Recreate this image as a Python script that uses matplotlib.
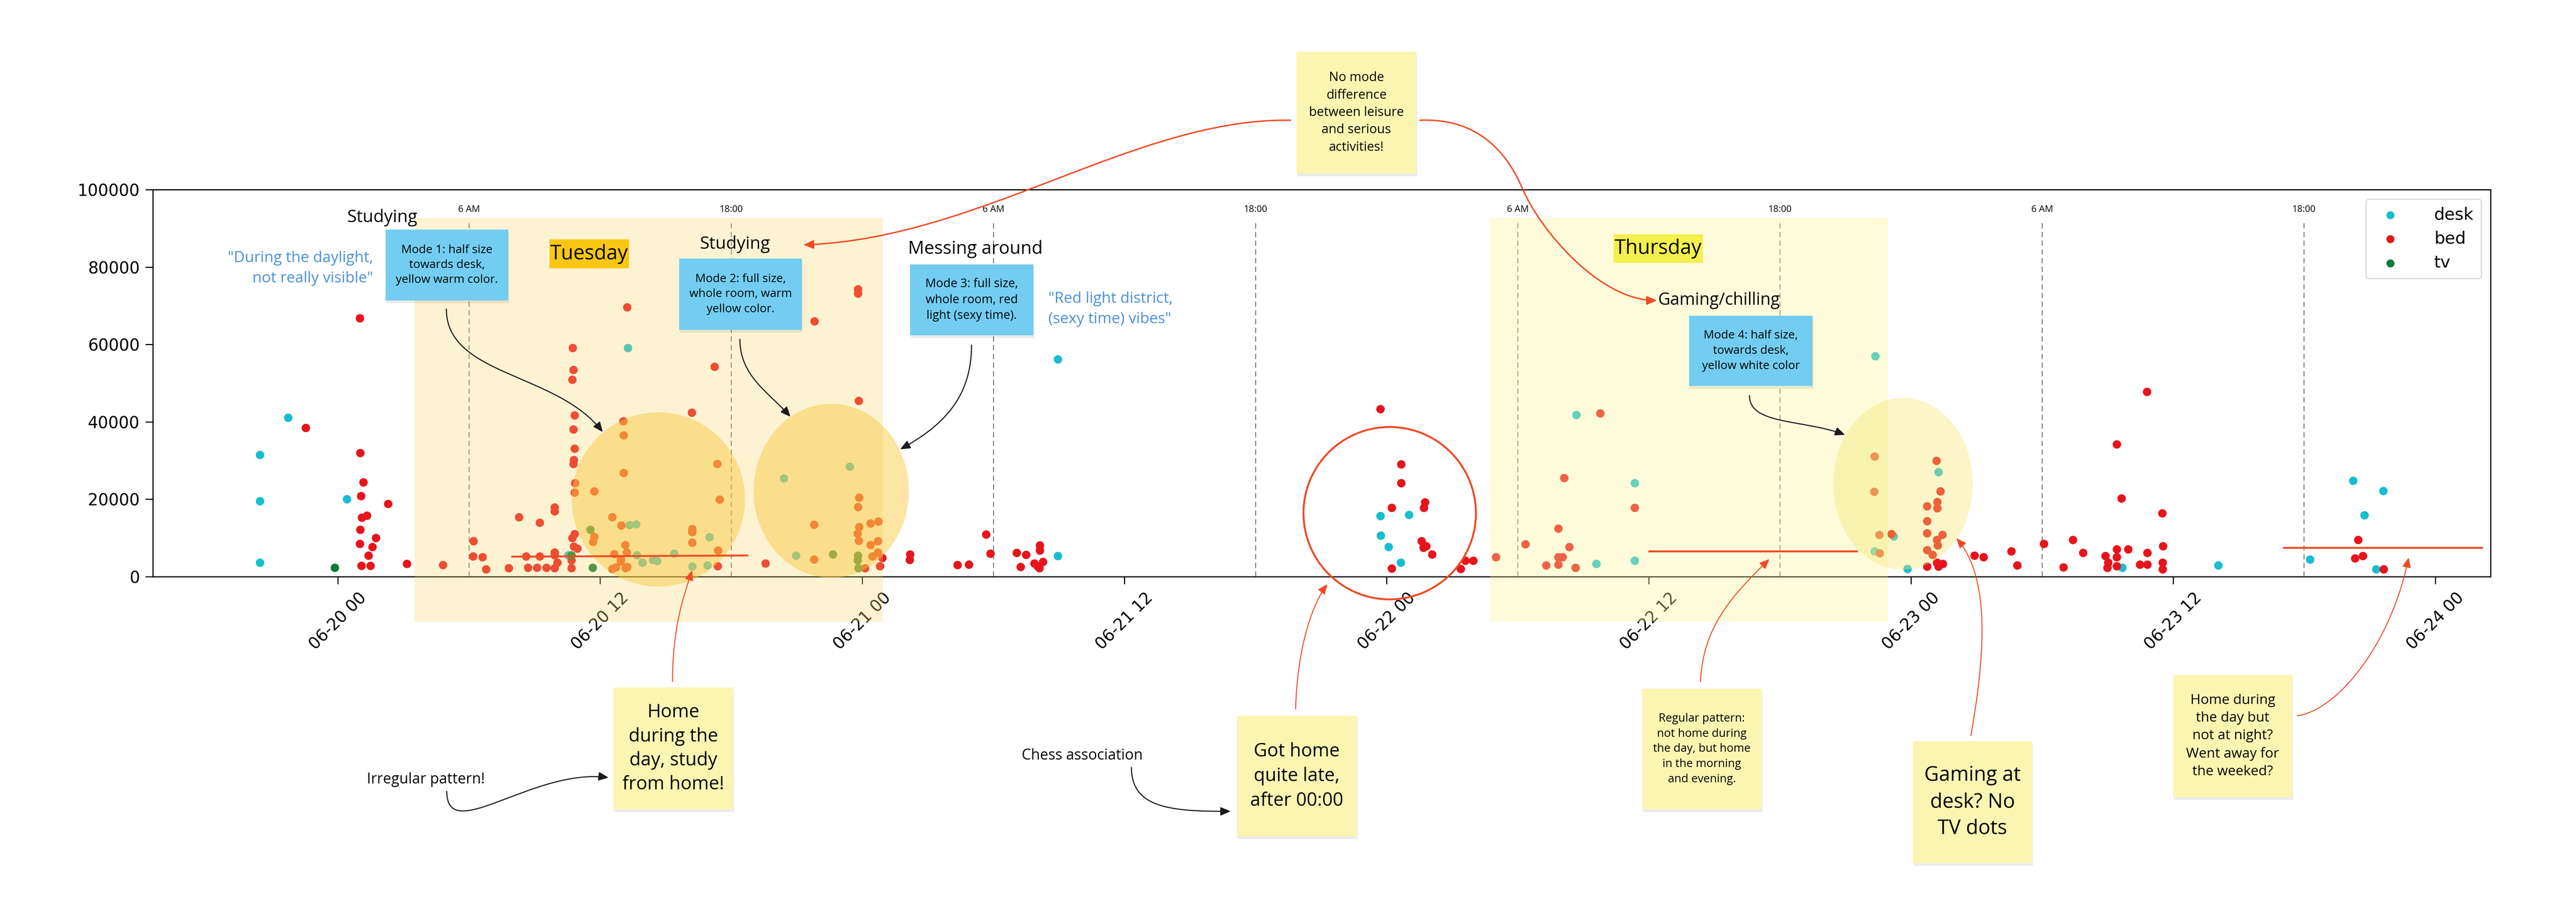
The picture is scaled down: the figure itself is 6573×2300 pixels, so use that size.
"""
Annotated scatter: light sensor values per location (desk / bed / tv)
over one week, with Miro-style sticky notes drawn on top.
"""

import matplotlib
matplotlib.use("Agg")
import matplotlib.pyplot as plt
import matplotlib.dates as mdates
from matplotlib import font_manager
from matplotlib.patches import Rectangle, Ellipse, FancyArrowPatch
from matplotlib.path import Path
import pandas as pd

# ── Data (hours after 06-20 00:00, sensor value) ─────────────────
START = pd.Timestamp("2021-06-20 00:00")

desk_hours = [-3.57, -2.28, -3.57, -3.57, 0.41, 13.27, 10.54, 13.34, 13.65, 13.69,
              15.39, 13.93, 14.41, 14.61, 16.21, 16.91, 17.01, 23.42, 20.41, 20.96,
              32.94, 32.94, 47.71, 49.03, 47.73, 48.08, 48.65, 56.68, 57.59, 59.35,
              59.35, 70.36, 73.26, 71.21, 70.33, 71.83, 81.66, 86.06, 90.26, 92.24,
              93.61, 92.75, 93.30]
desk_values = [31500, 41100, 19500, 3600, 20000, 59100, 5600, 13400, 13600, 5600,
               6000, 3600, 4400, 4000, 2600, 2900, 10200, 28400, 25400, 5500,
               56200, 5400, 15700, 16000, 10600, 7700, 3600, 41800, 3300, 24200,
               4200, 57000, 27000, 10400, 6600, 2000, 2300, 2900, 4500, 24800,
               22200, 15900, 1900]

bed_hours = [-1.47, 1.00, 1.02, 1.17, 1.05, 2.30, 1.09, 1.33, 1.02, 1.74,
             1.00, 1.58, 1.39, 1.07, 1.48, 3.16, 4.81, 6.21, 6.19, 6.62,
             6.77, 7.81, 8.29, 9.23, 9.91, 9.91, 8.60, 9.23, 9.92, 9.92,
             8.70, 9.11, 9.54, 9.91, 10.04, 10.80, 10.78, 10.85, 10.83, 10.83,
             10.72, 10.80, 10.96, 10.68, 10.68, 10.74, 10.78, 10.72, 10.84, 10.78,
             10.84, 13.23, 13.06, 13.08, 13.07, 11.72, 17.36, 17.47, 12.56, 12.96,
             11.72, 11.67, 16.21, 16.21, 16.22, 13.15, 17.39, 12.65, 13.22, 12.95,
             12.95, 12.56, 12.72, 13.17, 13.24, 17.37, 16.19, 17.24, 19.56, 23.80,
             23.80, 21.81, 23.84, 23.86, 23.80, 21.80, 24.38, 24.74, 23.85, 23.78,
             23.84, 24.72, 24.38, 24.72, 24.46, 21.80, 24.12, 24.80, 24.92, 26.19,
             26.16, 28.35, 28.88, 29.67, 29.86, 31.06, 31.50, 31.25, 32.12, 32.12,
             31.87, 32.01, 32.26, 32.10, 47.71, 48.66, 48.66, 48.24, 49.75, 49.71,
             49.60, 49.68, 49.81, 50.08, 48.24, 51.39, 51.60, 51.97, 53.00, 54.35,
             55.30, 55.86, 56.64, 55.86, 56.35, 55.86, 56.06, 56.13, 57.77, 59.35,
             70.33, 73.17, 70.31, 73.34, 73.20, 73.20, 72.74, 72.74, 70.55, 71.11,
             72.74, 73.43, 73.18, 73.22, 70.57, 72.74, 72.98, 72.73, 73.18, 73.26,
             73.45, 74.91, 75.31, 76.59, 76.86, 78.08, 78.98, 79.40, 79.87, 80.90,
             81.41, 81.63, 81.41, 81.41, 81.94, 81.03, 80.98, 81.41, 82.47, 82.81,
             82.81, 82.79, 83.50, 83.54, 83.52, 83.52, 92.47, 92.69, 92.33, 93.63]
bed_values = [38500, 66800, 32000, 24400, 20900, 18800, 15300, 15800, 12100, 10000,
              8550, 7700, 5500, 2800, 2800, 3350, 3000, 9200, 5300, 5100,
              1950, 2200, 15400, 14000, 17900, 16900, 5300, 5300, 6300, 5600,
              2300, 2300, 2300, 2200, 3600, 30200, 29200, 24200, 21800, 11000,
              10000, 7800, 7300, 4250, 2200, 59100, 53400, 50900, 41700, 38100,
              33100, 69600, 40200, 36500, 26800, 22100, 29200, 19900, 15400, 13300,
              10300, 9000, 12300, 11500, 8800, 8200, 6800, 5900, 6300, 4600,
              3900, 2050, 2400, 2200, 2550, 2700, 42400, 54300, 3400, 74300,
              73200, 66000, 45400, 20400, 18000, 13500, 13800, 14300, 12900, 11100,
              9300, 9200, 8200, 6300, 5300, 4500, 2200, 2700, 4900, 5800,
              4400, 3000, 3100, 10900, 6000, 6200, 5700, 2500, 8100, 6800,
              3400, 2700, 3800, 2200, 43300, 29000, 24200, 17800, 19200, 17800,
              9200, 7500, 7900, 5800, 2100, 2000, 4200, 4200, 5100, 8400,
              2900, 3100, 2300, 12400, 7700, 5100, 5100, 25500, 42200, 17800,
              31100, 30000, 22000, 22100, 19300, 17700, 18200, 14400, 10800, 11000,
              11200, 10800, 9500, 8100, 6100, 6900, 5700, 2600, 3600, 2600,
              3300, 5500, 5100, 6600, 2900, 8500, 2400, 9500, 6200, 5400,
              34200, 20200, 7100, 5100, 7100, 3600, 2300, 2700, 3100, 3100,
              6200, 47800, 16400, 7900, 3600, 1900, 9500, 5400, 4800, 1900]

tv_hours = [-0.15, 11.55, 10.68, 11.66, 22.65, 23.80, 23.78, 23.82]
tv_values = [2300, 12100, 5600, 2300, 5800, 5500, 4250, 2200]

marker_hours = [6, 18, 30, 42, 54, 66, 78, 90]
marker_labels = ["6 AM", "18:00", "6 AM", "18:00", "6 AM", "18:00", "6 AM", "18:00"]

# ── Style ────────────────────────────────────────────────────────
W, H = 6574, 2300
installed = {f.name for f in font_manager.fontManager.ttflist}
if "Liberation Sans Narrow" in installed:
    ANN, FS = "Liberation Sans Narrow", 1.25   # condensed, like the Miro board
else:
    ANN, FS = "Open Sans", 1.0
C_DESK, C_BED, C_TV = "#17becf", "#e8141c", "#0b7a3a"
BLUE_NOTE = "#72cdf1"
YELLOW_NOTE = "#fbf5b2"
RED = "#f04a25"
QUOTE = "#4a90d9"
INK = "#1a1a1a"


def to_time(hours):
    return START + pd.to_timedelta(hours, unit="h")


def note_text(ov, x, y, text, fs, **kw):
    kw.setdefault("ha", "center")
    kw.setdefault("va", "center")
    ov.text(x, y, text, fontsize=fs * FS, family=ANN, zorder=5, **kw)


def sticky(ov, x0, y0, x1, y1, color, text, fs, ls):
    ov.add_patch(Rectangle((x0 + 2, y0 + 7), x1 - x0, y1 - y0, color="#000000",
                           alpha=0.08, lw=0, zorder=3))
    ov.add_patch(Rectangle((x0, y0), x1 - x0, y1 - y0, color=color, lw=0, zorder=4))
    note_text(ov, (x0 + x1) / 2, (y0 + y1) / 2, text, fs,
              multialignment="center", linespacing=ls)


def curve(ov, pts, color, lw=2.0):
    codes = [Path.MOVETO] + [Path.CURVE4] * (len(pts) - 1)
    ov.add_patch(FancyArrowPatch(path=Path(pts, codes),
                                 arrowstyle="-|>,head_length=0.7,head_width=0.3",
                                 mutation_scale=22, lw=lw, color=color, zorder=6))


fig = plt.figure(figsize=(W / 100, H / 100), dpi=100, facecolor="white")
ax = fig.add_axes([390 / W, 1 - 1472 / H, (6355 - 390) / W, (1472 - 484) / H])

# ── Main scatter ─────────────────────────────────────────────────
ax.scatter(to_time(desk_hours), desk_values, s=240, c=C_DESK, lw=0, label="desk", zorder=3)
ax.scatter(to_time(bed_hours), bed_values, s=240, c=C_BED, lw=0, label="bed", zorder=3)
ax.scatter(to_time(tv_hours), tv_values, s=240, c=C_TV, lw=0, label="tv", zorder=3)

ax.vlines(to_time(marker_hours), 0, 92000, colors="#666666",
          linestyles=(0, (6, 4)), lw=1.6, zorder=2)
for t, lab in zip(to_time(marker_hours), marker_labels):
    ax.text(t, 94800, lab, ha="center", va="center", fontsize=17 * FS, family=ANN)

ax.set_xlim(to_time(-8.47), to_time(98.53))
ax.set_ylim(0, 100000)
ax.set_yticks(range(0, 100001, 20000))
ax.xaxis.set_major_locator(mdates.HourLocator(byhour=[0, 12]))
ax.xaxis.set_major_formatter(mdates.DateFormatter("%m-%d %H"))
ax.tick_params(axis="both", labelsize=30, length=14, width=2, pad=10)
plt.setp(ax.get_xticklabels(), rotation=45)
for sp in ax.spines.values():
    sp.set_linewidth(2.2)

leg = ax.legend(loc="upper right", fontsize=31, markerscale=0.95, borderpad=0.45,
                labelspacing=0.45, handletextpad=1.6, borderaxespad=0.55)
leg.get_frame().set_edgecolor("#cccccc")
leg.get_frame().set_linewidth(2)

# ── Overlay canvas (pixel coordinates) for the annotations ──────
ov = fig.add_axes([0, 0, 1, 1], zorder=5)
ov.set_xlim(0, W)
ov.set_ylim(H, 0)
ov.axis("off")
ov.patch.set_visible(False)

# day highlights and focus ellipses
ov.add_patch(Rectangle((1058, 556), 2253 - 1058, 1587 - 556, color="#fbd56b",
                       alpha=0.3, lw=0, zorder=1))
ov.add_patch(Rectangle((3802, 556), 4817 - 3802, 1587 - 556, color="#faf596",
                       alpha=0.35, lw=0, zorder=1))
ov.add_patch(Ellipse((1680, 1275), 442, 445, color="#f9c83c", alpha=0.47, lw=0, zorder=2))
ov.add_patch(Ellipse((2121, 1253), 396, 444, color="#f9c83c", alpha=0.47, lw=0, zorder=2))
ov.add_patch(Ellipse((4856, 1235), 356, 438, color="#f5e66e", alpha=0.38, lw=0, zorder=2))
ov.add_patch(Ellipse((3546, 1310), 440, 440, fill=False, ec=RED, lw=3.5, zorder=3))

# hand-drawn red baselines
ov.plot([1307, 1907], [1421, 1418], color=RED, lw=3.5, zorder=3)
ov.plot([4208, 4738], [1407, 1407], color=RED, lw=3.5, zorder=3)
ov.plot([5827, 6333], [1398, 1398], color=RED, lw=3.5, zorder=3)

# labels inside the chart
note_text(ov, 976, 556, "Studying", 32)
note_text(ov, 1876, 624, "Studying", 32)
note_text(ov, 2489, 636, "Messing around", 33)
note_text(ov, 4230, 767, "Gaming/chilling", 31, ha="left")
note_text(ov, 952, 685, "\"During the daylight,\nnot really visible\"", 28,
          ha="right", multialignment="right", linespacing=1.5, color=QUOTE)
note_text(ov, 2675, 789, "\"Red light district,\n(sexy time) vibes\"", 28,
          ha="left", multialignment="left", linespacing=1.5, color=QUOTE)

ov.add_patch(Rectangle((1402, 611), 203, 74, color="#f9c711", lw=0, zorder=4))
note_text(ov, 1503, 648, "Tuesday", 37)
ov.add_patch(Rectangle((4117, 598), 228, 73, color="#f5ef4d", lw=0, zorder=4))
note_text(ov, 4231, 635, "Thursday", 37)

# sticky notes
sticky(ov, 984, 586, 1297, 767, BLUE_NOTE,
       "Mode 1: half size\ntowards desk,\nyellow warm color.", 21.5, 1.42)
sticky(ov, 1733, 660, 2046, 842, BLUE_NOTE,
       "Mode 2: full size,\nwhole room, warm\nyellow color.", 21.5, 1.42)
sticky(ov, 2322, 675, 2637, 856, BLUE_NOTE,
       "Mode 3: full size,\nwhole room, red\nlight (sexy time).", 22, 1.45)
sticky(ov, 4310, 806, 4625, 985, BLUE_NOTE,
       "Mode 4: half size,\ntowards desk,\nyellow white color", 21.5, 1.45)
sticky(ov, 3308, 132, 3614, 443, YELLOW_NOTE,
       "No mode\ndifference\nbetween leisure\nand serious\nactivities!", 23.5, 1.46)
sticky(ov, 1565, 1755, 1871, 2066, YELLOW_NOTE,
       "Home\nduring the\nday, study\nfrom home!", 34, 1.38)
sticky(ov, 3156, 1827, 3462, 2135, YELLOW_NOTE,
       "Got home\nquite late,\nafter 00:00", 34, 1.42)
sticky(ov, 4190, 1758, 4495, 2066, YELLOW_NOTE,
       "Regular pattern:\nnot home during\nthe day, but home\nin the morning\nand evening.", 21, 1.45)
sticky(ov, 4881, 1892, 5185, 2203, YELLOW_NOTE,
       "Gaming at\ndesk? No\nTV dots", 37, 1.43)
sticky(ov, 5545, 1723, 5849, 2035, YELLOW_NOTE,
       "Home during\nthe day but\nnot at night?\nWent away for\nthe weeked?", 25.5, 1.42)

note_text(ov, 1087, 1990, "Irregular pattern!", 27)
note_text(ov, 2761, 1929, "Chess association", 27)

# black connectors
curve(ov, [(1139, 789), (1139, 960), (1420, 950), (1538, 1103)], INK)
curve(ov, [(1888, 866), (1888, 960), (1960, 1000), (2017, 1064)], INK)
curve(ov, [(2479, 881), (2479, 1020), (2400, 1090), (2297, 1147)], INK)
curve(ov, [(4464, 1010), (4464, 1085), (4600, 1070), (4708, 1110)], INK)
curve(ov, [(1140, 2020), (1140, 2160), (1360, 1960), (1553, 1985)], INK)
curve(ov, [(2887, 1959), (2887, 2060), (2980, 2072), (3140, 2071)], INK)

# red connectors
curve(ov, [(3293, 307), (2900, 300), (2500, 610), (2050, 625)], RED, lw=2.6)
curve(ov, [(3623, 307), (3780, 300), (3850, 400), (3886, 484),
           (3929, 585), (4080, 767), (4228, 767)], RED, lw=2.6)
curve(ov, [(1716, 1740), (1716, 1600), (1745, 1520), (1766, 1456)], RED, lw=1.8)
curve(ov, [(3306, 1810), (3310, 1650), (3350, 1540), (3387, 1491)], RED, lw=1.8)
curve(ov, [(4339, 1740), (4345, 1600), (4420, 1520), (4515, 1427)], RED, lw=1.8)
curve(ov, [(5029, 1878), (5060, 1700), (5085, 1480), (4992, 1374)], RED, lw=1.8)
curve(ov, [(5862, 1827), (5960, 1815), (6100, 1650), (6146, 1423)], RED, lw=1.8)

fig.savefig("out.png", dpi=100, facecolor="white")
